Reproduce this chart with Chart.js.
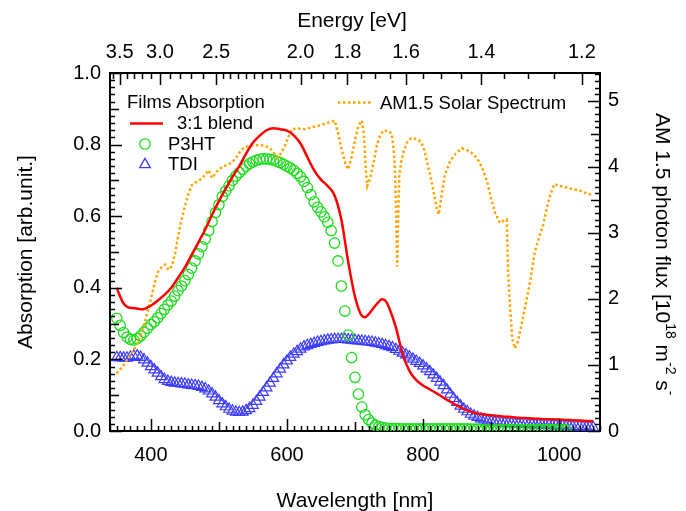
<!DOCTYPE html>
<html>
<head>
<meta charset="utf-8">
<script src="https://cdn.jsdelivr.net/npm/chart.js@4/dist/chart.umd.min.js"></script>
<style>
  html, body { margin: 0; padding: 0; background: #fff; }
  canvas { display: block; }
</style>
</head>
<body>
<canvas id="c" width="686" height="511"></canvas>
<script>
// ---------------- DATA ----------------
const seriesNames = ['3:1 blend', 'P3HT', 'TDI', 'AM1.5 Solar Spectrum'];
const legendTitle = 'Films Absorption';

// 3:1 blend absorption (line)
const blendWl = [350,355,360,365,370,375,380,385,390,395,400,410,420,430,440,450,460,470,480,490,
  500,510,520,530,540,550,560,570,580,590,600,610,620,630,640,650,660,670,680,690,
  700,710,715,720,730,740,745,750,760,770,780,790,800,810,820,830,840,850,860,870,
  880,890,900,910,920,930,940,950,960,970,980,990,1000,1010,1020,1030,1040,1050];
const blendAbs = [0.400,0.375,0.356,0.347,0.344,0.343,0.342,0.340,0.341,0.345,0.350,0.364,0.380,0.400,0.428,0.457,0.492,0.527,0.563,0.604,
  0.642,0.677,0.710,0.740,0.775,0.805,0.825,0.840,0.846,0.843,0.839,0.826,0.803,0.765,0.728,0.702,0.684,0.658,0.590,0.473,
  0.375,0.322,0.318,0.326,0.350,0.368,0.363,0.345,0.290,0.215,0.168,0.142,0.127,0.116,0.105,0.093,0.082,0.071,0.062,0.054,
  0.049,0.046,0.044,0.042,0.040,0.039,0.037,0.036,0.035,0.034,0.033,0.033,0.032,0.031,0.030,0.029,0.028,0.027];

// Film absorption sample wavelengths (P3HT circles, TDI triangles)
const filmWl = [350,355,360,365,370,375,380,385,390,395,400,405,410,415,420,425,430,435,440,445,
  450,455,460,465,470,475,480,485,490,495,500,505,510,515,520,525,530,535,540,545,
  550,555,560,565,570,575,580,585,590,595,600,605,610,615,620,625,630,635,640,645,
  650,655,660,665,670,675,680,685,690,695,700,705,710,715,720,725,730,735,740,745,
  750,755,760,765,770,775,780,785,790,795,800,805,810,815,820,825,830,835,840,845,
  850,855,860,865,870,875,880,885,890,895,900,905,910,915,920,925,930,935,940,945,
  950,955,960,965,970,975,980,985,990,995,1000,1005,1010,1015,1020,1025,1030,1035,1040,1045,1050];
const p3htAbs = [0.315,0.295,0.275,0.262,0.256,0.254,0.258,0.266,0.276,0.287,0.297,0.305,0.316,0.328,0.340,0.352,0.363,0.377,0.392,0.405,
  0.420,0.437,0.455,0.475,0.495,0.515,0.536,0.560,0.585,0.610,0.632,0.655,0.670,0.685,0.700,0.712,0.722,0.731,0.740,0.747,
  0.752,0.756,0.759,0.760,0.760,0.759,0.757,0.753,0.750,0.745,0.740,0.735,0.728,0.720,0.710,0.697,0.680,0.660,0.640,0.625,
  0.612,0.598,0.583,0.560,0.525,0.475,0.405,0.335,0.268,0.205,0.150,0.103,0.067,0.045,0.032,0.022,0.016,0.012,0.010,0.008,
  0.007,0.007,0.007,0.007,0.006,0.006,0.006,0.006,0.006,0.006,0.006,0.006,0.006,0.006,0.006,0.006,0.006,0.006,0.006,0.006,
  0.006,0.006,0.006,0.006,0.005,0.005,0.005,0.004,0.003,0.003,0.003,0.003,0.003,0.003,0.003,0.003,0.003,0.003,0.003,0.003,
  0.003,0.003,0.003,0.003,0.003,0.003,0.003,0.003,0.003,0.003,0.003,0.003,0.003,null,null,null,null,null,null,null,null];
const tdiAbs = [0.205,0.205,0.204,0.204,0.206,0.209,0.210,0.206,0.199,0.190,0.180,0.171,0.162,0.152,0.144,0.139,0.136,0.134,0.133,0.132,
  0.131,0.129,0.128,0.127,0.125,0.122,0.118,0.112,0.104,0.095,0.085,0.076,0.068,0.061,0.056,0.053,0.052,0.053,0.057,0.063,
  0.072,0.083,0.095,0.108,0.121,0.134,0.147,0.160,0.173,0.185,0.196,0.206,0.215,0.222,0.229,0.235,0.239,0.242,0.245,0.248,
  0.250,0.252,0.254,0.255,0.256,0.256,0.256,0.256,0.255,0.254,0.253,0.252,0.251,0.250,0.249,0.248,0.246,0.244,0.242,0.239,
  0.236,0.233,0.228,0.223,0.218,0.213,0.207,0.201,0.195,0.189,0.182,0.174,0.166,0.157,0.147,0.137,0.127,0.115,0.103,0.091,
  0.080,0.070,0.061,0.054,0.047,0.042,0.038,0.034,0.031,0.028,0.026,0.025,0.024,0.023,0.022,0.021,0.021,0.020,0.020,0.019,
  0.019,0.018,0.018,0.017,0.017,0.016,0.016,0.016,0.015,0.015,0.014,0.014,0.013,0.013,0.012,0.012,0.012,0.011,0.011,0.011,0.010];

// AM1.5 solar photon flux (10^18 m^-2 s^-1)
const solarWl = [350,360,370,380,390,400,406,410,416,421,426,431,436,440,445,450,455,460,468,475,
  480,485,490,497,504,512,519,526,533,540,548,560,568,577,583,587,592,597,602,607,
  617,627,637,646,658,670,675,680,686,690,695,700,705,710,713,716,718,722,727,732,
  737,742,750,754,757,759,761,762,763,765,768,772,777,783,790,797,802,808,814,820,
  823,827,832,840,848,857,865,873,880,887,894,900,906,913,918,923,925,928,931,935,
  939,945,952,958,964,970,976,982,987,993,1000,1010,1020,1030,1040,1050];
const solarFlux = [0.87,1.00,1.15,1.32,1.60,2.00,2.25,2.40,2.48,2.52,2.44,2.50,2.70,2.95,3.20,3.40,3.58,3.72,3.78,3.82,
  3.88,3.95,3.83,3.93,3.99,4.03,4.06,4.15,4.26,4.30,4.32,4.33,4.32,4.26,4.18,4.14,4.22,4.32,4.45,4.57,
  4.58,4.57,4.60,4.62,4.66,4.70,4.52,4.28,4.04,3.96,4.15,4.40,4.62,4.70,4.50,3.95,3.71,3.82,4.05,4.32,
  4.48,4.55,4.54,4.50,4.25,3.90,3.00,2.49,3.00,3.85,4.08,4.25,4.38,4.44,4.42,4.38,4.25,3.98,3.70,3.38,
  3.28,3.55,3.88,4.09,4.20,4.28,4.25,4.20,4.12,3.98,3.78,3.52,3.30,3.15,3.18,3.20,2.40,1.85,1.40,1.25,
  1.35,1.62,1.98,2.30,2.70,2.92,3.10,3.38,3.58,3.74,3.71,3.69,3.66,3.64,3.60,3.57];

// Tick labels
const wavelengthTicks = [400, 600, 800, 1000];
const energyTicks = [3.5, 3.0, 2.5, 2.0, 1.8, 1.6, 1.4, 1.2];
const absTicks = [0.0, 0.2, 0.4, 0.6, 0.8, 1.0];
const fluxTicks = [0, 1, 2, 3, 4, 5];

// Axis titles
const xTitle = 'Wavelength [nm]';
const x2Title = 'Energy [eV]';
const yTitle = 'Absorption [arb.unit.]';
const y2TitleParts = [['AM 1.5 photon flux [10', 0], ['18', 1], [' m', 0], ['-2', 1], [' s', 0], ['-', 1]];

// ---------------- STYLE ----------------
const FONT = "'Liberation Sans', Arial, Helvetica, sans-serif";
const RED = '#ff0000', GREEN = '#1edc1e', BLUE = '#3c3cff', ORANGE = '#ffa500';
const HC = 1240; // eV*nm

function pts(xs, ys) {
  const out = [];
  for (let i = 0; i < xs.length; i++) if (ys[i] !== null && ys[i] !== undefined) out.push({ x: xs[i], y: ys[i] });
  return out;
}

// inward ticks drawn through the chart's scales
const inwardTicks = {
  id: 'inwardTicks',
  afterDraw(chart) {
    const ctx = chart.ctx, a = chart.chartArea, s = chart.scales;
    ctx.save();
    ctx.strokeStyle = '#000';
    ctx.lineWidth = 1.5;
    ctx.beginPath();
    for (let v = 340; v <= 1060; v += 10) {
      const len = v % 200 === 0 ? 12 : (v % 100 === 0 ? 9 : 5);
      const px = Math.round(s.x.getPixelForValue(v)) + 0.5;
      ctx.moveTo(px, a.bottom); ctx.lineTo(px, a.bottom - len);
    }
    const eMinor = [];
    for (let e = 36; e >= 25; e -= 1) eMinor.push(e / 10);
    for (let e = 245; e >= 120; e -= 5) eMinor.push(e / 100);
    eMinor.forEach(e => {
      const wl = HC / e;
      if (wl < 340 || wl > 1060) return;
      const major = energyTicks.some(t => Math.abs(t - e) < 1e-6);
      const px = Math.round(s.x2.getPixelForValue(wl)) + 0.5;
      ctx.moveTo(px, a.top); ctx.lineTo(px, a.top + (major ? 12 : 6));
    });
    for (let k = 0; k <= 50; k++) {
      const v = k / 50;
      const len = k % 10 === 0 ? 12 : (k % 5 === 0 ? 9 : 5);
      const py = Math.round(s.y.getPixelForValue(v)) + 0.5;
      ctx.moveTo(a.left, py); ctx.lineTo(a.left + len, py);
    }
    for (let k = 0; k <= 54; k++) {
      const v = k / 10;
      const len = k % 10 === 0 ? 12 : (k % 5 === 0 ? 9 : 5);
      const py = Math.round(s.y2.getPixelForValue(v)) + 0.5;
      ctx.moveTo(a.right, py); ctx.lineTo(a.right - len, py);
    }
    ctx.stroke();
    ctx.restore();
  }
};

// titles and legend
const decorations = {
  id: 'decorations',
  afterDraw(chart) {
    const ctx = chart.ctx, a = chart.chartArea;
    const cx = (a.left + a.right) / 2;
    ctx.save();
    ctx.fillStyle = '#000';
    ctx.font = '21px ' + FONT;
    ctx.textBaseline = 'alphabetic';
    ctx.textAlign = 'center';
    ctx.fillText(x2Title, cx - 3, 27);
    ctx.fillText(xTitle, cx, 507);
    ctx.save();
    ctx.translate(32, (a.top + a.bottom) / 2);
    ctx.rotate(-Math.PI / 2);
    ctx.fillText(yTitle, 0, 0);
    ctx.restore();
    ctx.save();
    ctx.translate(656, 113);
    ctx.rotate(Math.PI / 2);
    ctx.textAlign = 'left';
    let x = 0;
    y2TitleParts.forEach(([t, sup]) => {
      ctx.font = (sup ? '14px ' : '21px ') + FONT;
      ctx.fillText(t, x, sup ? -10 : 0);
      x += ctx.measureText(t).width;
    });
    ctx.restore();

    // legend
    ctx.font = '18.5px ' + FONT;
    ctx.textAlign = 'left';
    ctx.fillText(legendTitle, 127, 108);
    ctx.strokeStyle = RED; ctx.lineWidth = 2.5;
    ctx.beginPath(); ctx.moveTo(130, 123.5); ctx.lineTo(163, 123.5); ctx.stroke();
    ctx.fillText(seriesNames[0], 177, 129);
    ctx.strokeStyle = GREEN; ctx.lineWidth = 1.3;
    ctx.beginPath(); ctx.arc(145, 144, 5.2, 0, Math.PI * 2); ctx.stroke();
    ctx.fillText(seriesNames[1], 168, 150);
    ctx.strokeStyle = BLUE;
    const r = 6.2, tx = 145, ty = 164.5;
    ctx.beginPath();
    ctx.moveTo(tx, ty - r);
    ctx.lineTo(tx + r * Math.sin(2 * Math.PI / 3), ty - r * Math.cos(2 * Math.PI / 3));
    ctx.lineTo(tx + r * Math.sin(4 * Math.PI / 3), ty - r * Math.cos(4 * Math.PI / 3));
    ctx.closePath(); ctx.stroke();
    ctx.fillText(seriesNames[2], 168, 170);
    ctx.strokeStyle = ORANGE; ctx.lineWidth = 2.5; ctx.setLineDash([2.5, 2.5]);
    ctx.beginPath(); ctx.moveTo(338, 102.5); ctx.lineTo(373, 102.5); ctx.stroke();
    ctx.setLineDash([]);
    ctx.fillText(seriesNames[3], 380, 108.5);
    ctx.restore();
  }
};

const tickFont = { family: FONT, size: 20 };
const commonAxis = {
  grid: { display: false, drawTicks: false, drawOnChartArea: false },
  border: { display: true, color: '#000', width: 2 },
};

new Chart(document.getElementById('c'), {
  type: 'line',
  data: {
    datasets: [
      { label: seriesNames[0], data: pts(blendWl, blendAbs), xAxisID: 'x', yAxisID: 'y',
        borderColor: RED, borderWidth: 2.5, pointRadius: 0, fill: false,
        cubicInterpolationMode: 'monotone', order: 0 },
      { label: seriesNames[1], data: pts(filmWl, p3htAbs), xAxisID: 'x', yAxisID: 'y',
        showLine: false, pointStyle: 'circle', pointRadius: 5.2, pointBorderWidth: 1.3,
        pointBorderColor: GREEN, pointBackgroundColor: 'rgba(0,0,0,0)', borderColor: GREEN, order: 2 },
      { label: seriesNames[2], data: pts(filmWl, tdiAbs), xAxisID: 'x', yAxisID: 'y',
        showLine: false, pointStyle: 'triangle', pointRadius: 6.2, pointBorderWidth: 1.2,
        pointBorderColor: BLUE, pointBackgroundColor: 'rgba(0,0,0,0)', borderColor: BLUE, order: 3 },
      { label: seriesNames[3], data: pts(solarWl, solarFlux), xAxisID: 'x', yAxisID: 'y2',
        borderColor: ORANGE, borderWidth: 2.5, borderDash: [2.5, 2.5], pointRadius: 0, fill: false,
        tension: 0, order: 1 }
    ]
  },
  options: {
    responsive: false,
    animation: false,
    devicePixelRatio: 1,
    layout: { padding: 0 },
    plugins: { legend: { display: false }, tooltip: { enabled: false } },
    scales: {
      x: Object.assign({}, commonAxis, {
        type: 'linear', position: 'bottom', min: 340, max: 1060,
        afterBuildTicks: s => { s.ticks = wavelengthTicks.map(v => ({ value: v })); },
        afterFit: s => { s.height = 80; },
        ticks: { font: tickFont, color: '#000', padding: 12, autoSkip: false, maxRotation: 0,
                 callback: v => String(v) }
      }),
      x2: Object.assign({}, commonAxis, {
        type: 'linear', position: 'top', min: 340, max: 1060, display: true,
        afterBuildTicks: s => { s.ticks = energyTicks.map(e => ({ value: HC / e })); },
        afterFit: s => { s.height = 73; },
        ticks: { font: tickFont, color: '#000', padding: 9, autoSkip: false, maxRotation: 0,
                 callback: v => (HC / v).toFixed(1) }
      }),
      y: Object.assign({}, commonAxis, {
        type: 'linear', position: 'left', min: 0, max: 1,
        afterBuildTicks: s => { s.ticks = absTicks.map(v => ({ value: v })); },
        afterFit: s => { s.width = 110; },
        ticks: { font: tickFont, color: '#000', padding: 9, autoSkip: false,
                 callback: v => v.toFixed(1) }
      }),
      y2: Object.assign({}, commonAxis, {
        type: 'linear', position: 'right', min: 0, max: 5.42,
        afterBuildTicks: s => { s.ticks = fluxTicks.map(v => ({ value: v })); },
        afterFit: s => { s.width = 86; },
        ticks: { font: tickFont, color: '#000', padding: 8, autoSkip: false,
                 callback: v => v.toFixed(0) }
      })
    }
  },
  plugins: [inwardTicks, decorations]
});
</script>
</body>
</html>
